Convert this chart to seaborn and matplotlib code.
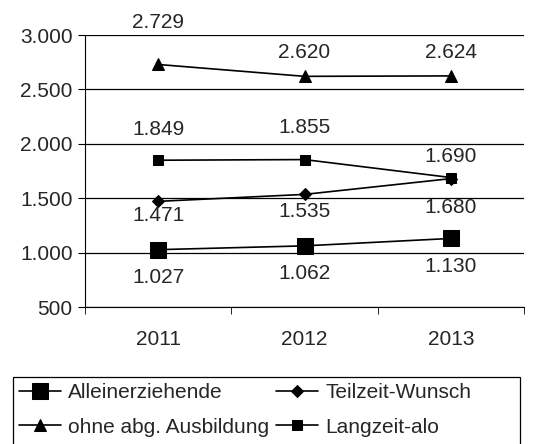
import numpy as np
import pandas as pd
import matplotlib
matplotlib.use("Agg")
import matplotlib.pyplot as plt
import seaborn as sns
from matplotlib.patches import Rectangle

years = ["2011", "2012", "2013"]
alleinerziehende = [1027, 1062, 1130]
teilzeit_wunsch = [1471, 1535, 1680]
ohne_ausbildung = [2729, 2620, 2624]
langzeit_alo = [1849, 1855, 1690]

series_names = ["Alleinerziehende", "Teilzeit-Wunsch",
                "ohne abg. Ausbildung", "Langzeit-alo"]

df = pd.DataFrame({
    "Jahr": years * 4,
    "Wert": alleinerziehende + teilzeit_wunsch + ohne_ausbildung + langzeit_alo,
    "Gruppe": np.repeat(series_names, 3),
})

sns.set_style("white")
plt.rcParams["font.family"] = ["Liberation Sans", "DejaVu Sans"]
FS = 15

fig = plt.figure(figsize=(5.55, 4.44), dpi=100)
ax = fig.add_axes([85 / 555, 1 - 307 / 444, (524 - 85) / 555, (307 - 35) / 444])

markers = {"Alleinerziehende": "s", "Teilzeit-Wunsch": "D",
           "ohne abg. Ausbildung": "^", "Langzeit-alo": "s"}
msizes = {"Alleinerziehende": 11, "Teilzeit-Wunsch": 6,
          "ohne abg. Ausbildung": 8, "Langzeit-alo": 6.5}

for name in series_names:
    sub = df[df["Gruppe"] == name]
    sns.lineplot(data=sub, x="Jahr", y="Wert", ax=ax, color="black",
                 marker=markers[name], markersize=msizes[name],
                 markeredgecolor="black", linewidth=1.2, label=name,
                 sort=False)

# label offsets in pixels (positive = above the point)
offsets = {"Alleinerziehende": [-28, -28, -28],
           "Teilzeit-Wunsch": [-14, -17, -29],
           "ohne abg. Ausbildung": [42, 24, 23],
           "Langzeit-alo": [31, 32, 21]}
for name in series_names:
    sub = df[df["Gruppe"] == name].reset_index(drop=True)
    for i, row in sub.iterrows():
        lbl = f"{row['Wert']:,}".replace(",", ".")
        ax.annotate(lbl, (i, row["Wert"]), textcoords="offset points",
                    xytext=(0, offsets[name][i] * 0.72), ha="center",
                    va="center", fontsize=FS)

yt = [500, 1000, 1500, 2000, 2500, 3000]
ax.set_ylim(500, 3000)
ax.set_xlim(-0.5, 2.5)
ax.set_yticks(yt)
ax.set_yticklabels([f"{v:,}".replace(",", ".") for v in yt])
ax.set_xticks([0, 1, 2])
ax.set_xticklabels(years)
ax.set_xticks([-0.5, 0.5, 1.5, 2.5], minor=True)
ax.set_xlabel("")
ax.set_ylabel("")
ax.grid(axis="y", color="black", linewidth=0.9)
ax.set_axisbelow(True)
for s in ["top", "right"]:
    ax.spines[s].set_visible(False)
ax.spines["left"].set_color("black")
ax.spines["bottom"].set_color("black")
ax.tick_params(axis="y", which="major", left=True, length=5, color="black",
               labelsize=FS, pad=4)
ax.tick_params(axis="x", which="major", bottom=False, labelsize=FS, pad=13)
ax.tick_params(axis="x", which="minor", bottom=True, length=5, color="black")

handles, labels = ax.get_legend_handles_labels()
ax.legend_.remove()
order = [0, 2, 1, 3]  # fill legend row by row
leg = fig.legend([handles[i] for i in order], [labels[i] for i in order],
                 loc="upper left", bbox_to_anchor=(19 / 555, 1 - 383 / 444),
                 ncol=2, fontsize=FS, frameon=False,
                 handlelength=2.0, handletextpad=0.35,
                 columnspacing=0.35, borderpad=0.0, labelspacing=0.75,
                 borderaxespad=0)

# legend box, wider than the entries and running off the bottom edge
fig.patches.append(Rectangle((13 / 555, -0.02), (520 - 13) / 555,
                             (1 - 377 / 444) + 0.02, transform=fig.transFigure,
                             fill=False, edgecolor="black", linewidth=0.9))

fig.savefig("out.png", dpi=100)
